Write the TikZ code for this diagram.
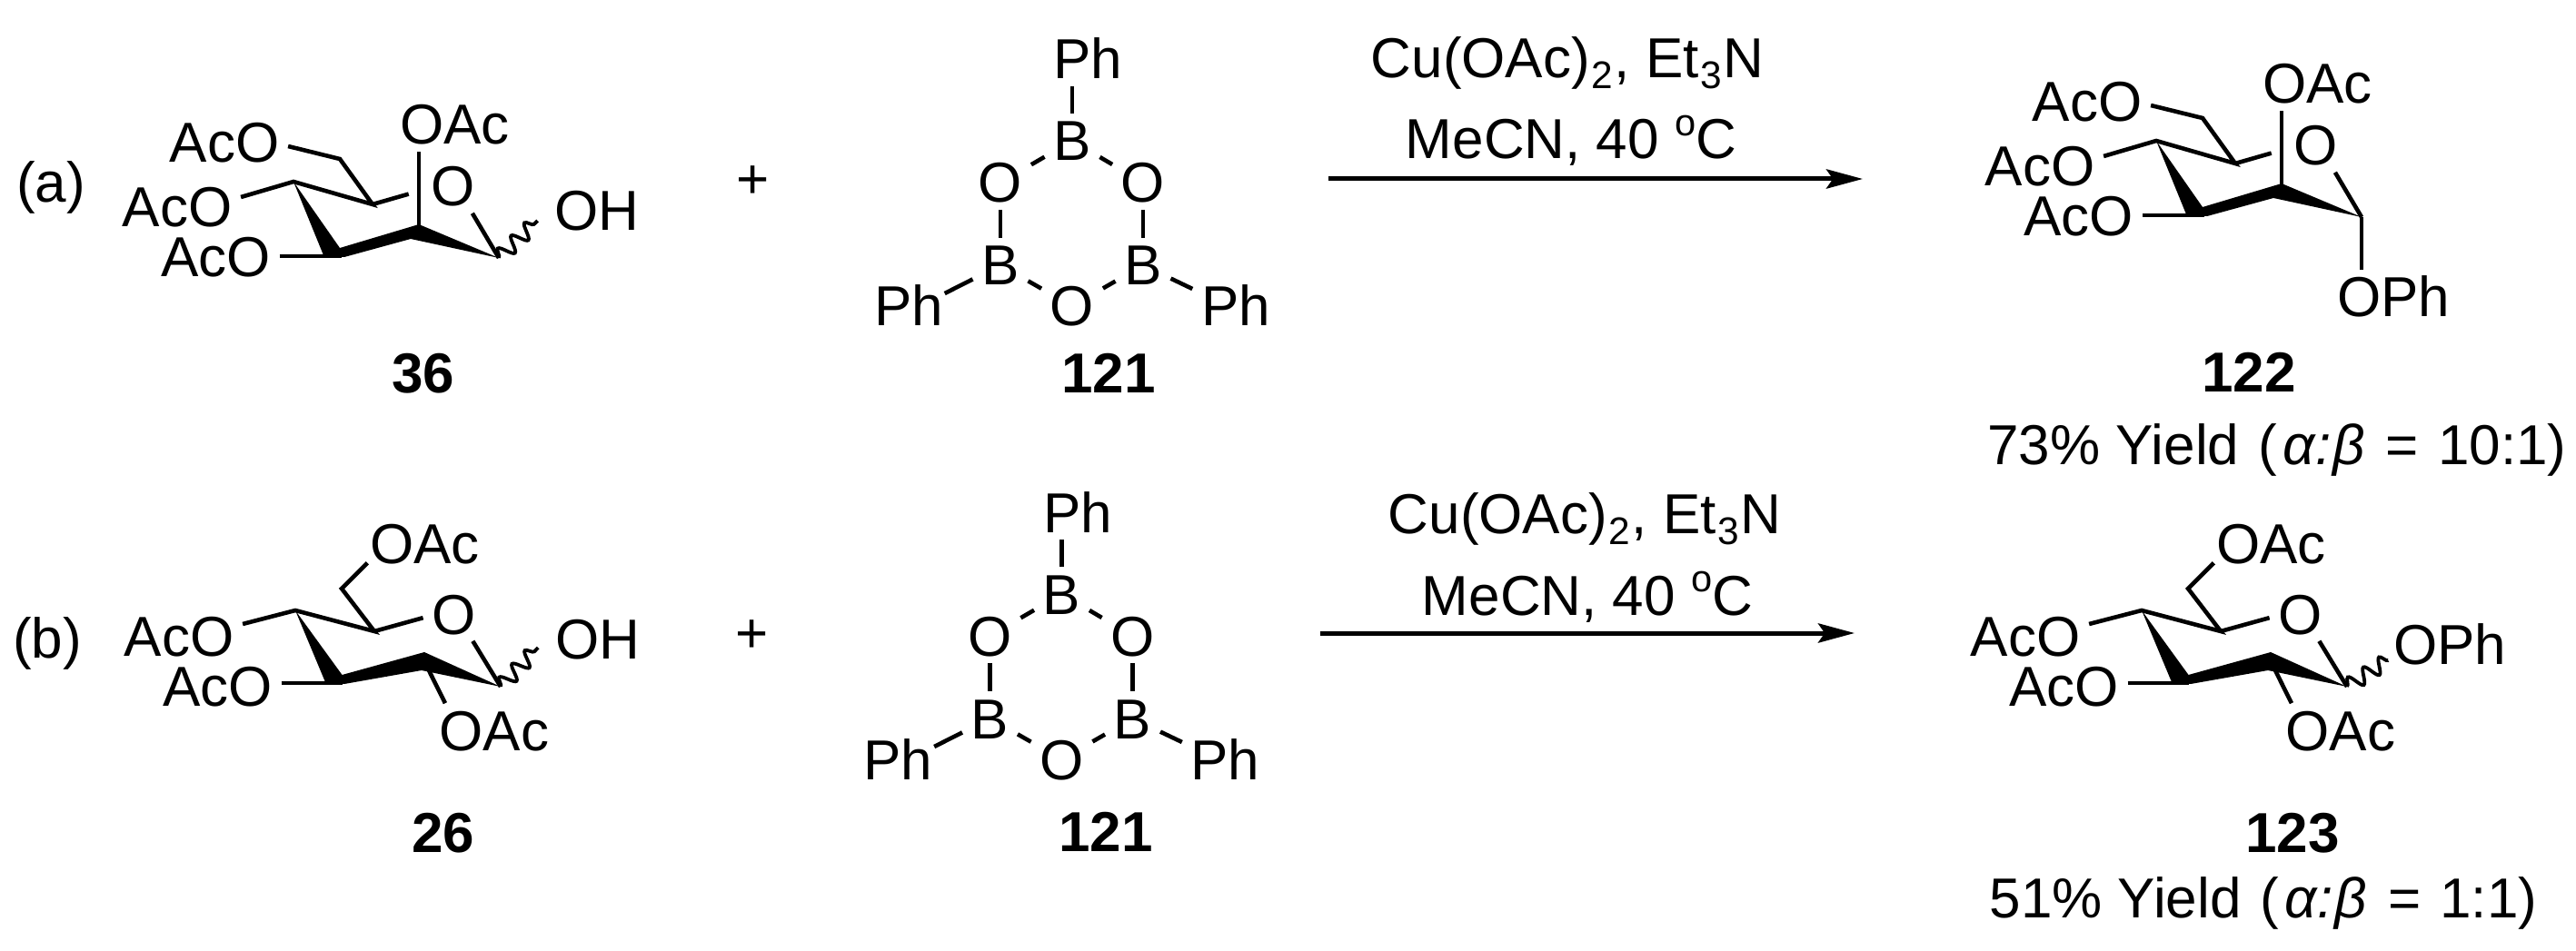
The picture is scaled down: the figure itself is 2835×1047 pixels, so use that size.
\documentclass[tikz,border=0pt]{standalone}
\usepackage{fontspec}
\setmainfont{Liberation Sans}
\usetikzlibrary{arrows.meta,decorations.pathmorphing}

\newcommand{\subtxt}[1]{\hspace{0.4pt}\raisebox{-3pt}{\fontsize{10.6}{12}\selectfont #1}\hspace{0.4pt}}
\newcommand{\suptxt}[1]{\raisebox{6.3pt}{\fontsize{10.4}{12}\selectfont #1}}
\newcommand{\ratio}{\hspace{1.5pt}\textit{α\hspace{0.3pt}:\hspace{0.3pt}β}\hspace{1.5pt}}

\begin{document}
\begin{tikzpicture}[x=0.25pt, y=-0.25pt, >={Stealth[length=10pt,width=5.3pt,inset=1.8pt]},
    txt/.style={font=\fontsize{15.5}{18}\selectfont, inner xsep=2.25pt, inner ysep=1.75pt,
      text height=11pt, text depth=0pt},
    cmpd/.style={txt, font=\fontsize{15.5}{18}\selectfont\bfseries},
    bond/.style={line width=1.15pt},
    wavy/.style={line width=0.95pt, decorate, decoration={snake, segment length=5.1pt, amplitude=2.1pt}},
    rxn/.style={line width=1.25pt, ->}]

  \useasboundingbox (0,0) rectangle (2835,1047);

  \node[txt] (tagA) at (56,201) {(a)};
  \node[txt] (tagB) at (52,702) {(b)};
  \node[txt] (plusA) at (829,197) {+};
  \node[txt] (plusB) at (828,696) {+};

  % mannose ring
  \foreach \nm/\dx/\dy in {a/0/0, c/2050/-45} {
    \begin{scope}[shift={(\dx,\dy)}, name prefix=\nm-]
      \coordinate (c1) at (549,284);
      \coordinate (c2) at (461,255);
      \coordinate (c3) at (376,282);
      \coordinate (c4) at (323,200);
      \coordinate (c5) at (410,225);
      \coordinate (ch2) at (374,175);
      \node[txt] (acoA) at (247,157) {AcO};
      \node[txt] (acoB) at (195,228) {AcO};
      \node[txt] (acoC) at (237.7,283) {AcO};
      \node[txt] (oac) at (500.5,137) {OAc};
      \node[txt] (o) at (499,205) {O};
      \fill (c4) -- (374,273) -- (461,247) -- (c1) -- (452,263) -- (379,283) -- (356,281) -- cycle;
      \draw[bond] ([yshift=-1pt]acoA.east) -- (ch2) -- (c5) -- (c4) -- ([yshift=2.75pt]acoB.east);
      \draw[bond] (acoC.east |- c3) -- (c3);
      \draw[bond] (c2) -- (c2 |- oac.south);
      \draw[bond, shorten >=4pt] (c5) -- (o.187);
      \draw[bond] (c1) -- (o.-55);
    \end{scope}
  }

  % glucose ring
  \foreach \nm/\dx/\dy in {b/0/0, d/2032/0} {
    \begin{scope}[shift={(\dx,\dy)}, name prefix=\nm-]
      \coordinate (c1) at (551,756);
      \coordinate (c2) at (466,726);
      \coordinate (c3) at (377,752);
      \coordinate (c4) at (325,672);
      \coordinate (c5) at (412,695);
      \coordinate (ch2) at (376,648);
      \node[txt] (acoA) at (197,700) {AcO};
      \node[txt] (acoB) at (239.5,755) {AcO};
      \node[txt] (oacT) at (467.5,598) {OAc};
      \node[txt] (oacB) at (544,804) {OAc};
      \node[txt] (o) at (499.5,676) {O};
      \fill (c4) -- (376.5,743) -- (467,718) -- (c1) -- (464,738) -- (379,753) -- (358,751) -- cycle;
      \draw[bond] ([yshift=3.25pt]acoA.east) -- (c4) -- (c5) -- (ch2) -- ([xshift=1.75pt,yshift=2pt]oacT.south west);
      \draw[bond] (acoB.east |- c3) -- (c3);
      \draw[bond] (c2) -- ([xshift=4pt]oacB.north west);
      \draw[bond] (c5) -- (o.187);
      \draw[bond] (c1) -- (o.-55);
    \end{scope}
  }

  % anomeric groups
  \node[txt] (a-oh) at (657,232) {OH};
  \node[txt] (b-oh) at (657.5,703) {OH};
  \node[txt] (c-oph) at (2634,327) {OPh};
  \node[txt] (d-oph) at (2696,709) {OPh};
  \draw[wavy] (a-c1) -- ([xshift=-2.25pt,yshift=-2.75pt]a-oh.west);
  \draw[wavy] (b-c1) -- ([xshift=-2.25pt,yshift=-2.5pt]b-oh.west);
  \draw[bond] (c-c1) -- (c-c1 |- c-oph.north);
  \draw[wavy] (d-c1) -- ([xshift=1pt,yshift=-4.5pt]d-oph.west);

  % boroxine
  \foreach \nm/\dx/\dy in {p/0/0, q/-11.5/499} {
    \begin{scope}[shift={(\dx,\dy)}, name prefix=\nm-]
      \node[txt] (b1) at (1180,155) {B};
      \node[txt] (b2) at (1101,292) {B};
      \node[txt] (b3) at (1258,292) {B};
      \node[txt] (o1) at (1101,201) {O};
      \node[txt] (o2) at (1258,201) {O};
      \node[txt] (o3) at (1180,337) {O};
      \node[txt] (ph1) at (1197.5,65) {Ph};
      \node[txt] (ph2) at (1000,337) {Ph};
      \node[txt] (ph3) at (1360,337) {Ph};
      \draw[bond] (b1) -- (o1);
      \draw[bond] (b1) -- (o2);
      \draw[bond] (o1) -- (b2);
      \draw[bond] (o2) -- (b3);
      \draw[bond] (b2) -- (o3);
      \draw[bond] (b3) -- (o3);
      \draw[bond] (b1.north) -- (b1.north |- ph1.south);
      \draw[bond] (b2) -- ([xshift=-2pt,yshift=3.5pt]ph2.east);
      \draw[bond] (b3) -- ([yshift=4.75pt]ph3.west);
    \end{scope}
  }

  % reaction arrows
  \foreach \nm/\xt/\yt/\xc/\yc/\xs/\xe/\ya in {A/1725/64/1729/153/1462/2050/197, B/1744/565/1747/655/1453/2041/697} {
    \node[txt] (top\nm) at (\xt,\yt) {Cu(OAc)\subtxt{2}, Et\subtxt{3}N};
    \node[txt] (cond\nm) at (\xc,\yc) {MeCN, 40 \suptxt{o}C};
    \coordinate (from\nm) at (\xs,\ya);
    \coordinate (to\nm) at (\xe,\ya);
    \draw[rxn] (from\nm) -- (to\nm);
  }

  \node[cmpd] (n36) at (466,411) {36};
  \node[cmpd] (n121a) at (1220,411) {121};
  \node[cmpd] (n122) at (2475,410) {122};
  \node[cmpd] (n26) at (488,916) {26};
  \node[cmpd] (n121b) at (1217,915) {121};
  \node[cmpd] (n123) at (2523,916) {123};
  \node[txt] (yieldA) at (2506,490) {73\% Yield\hspace{1pt} (\ratio{} =\hspace{1pt} 10:1)};
  \node[txt] (yieldB) at (2491,988) {51\% Yield\hspace{1pt} (\ratio{} =\hspace{1pt} 1:1)};

\end{tikzpicture}
\end{document}
